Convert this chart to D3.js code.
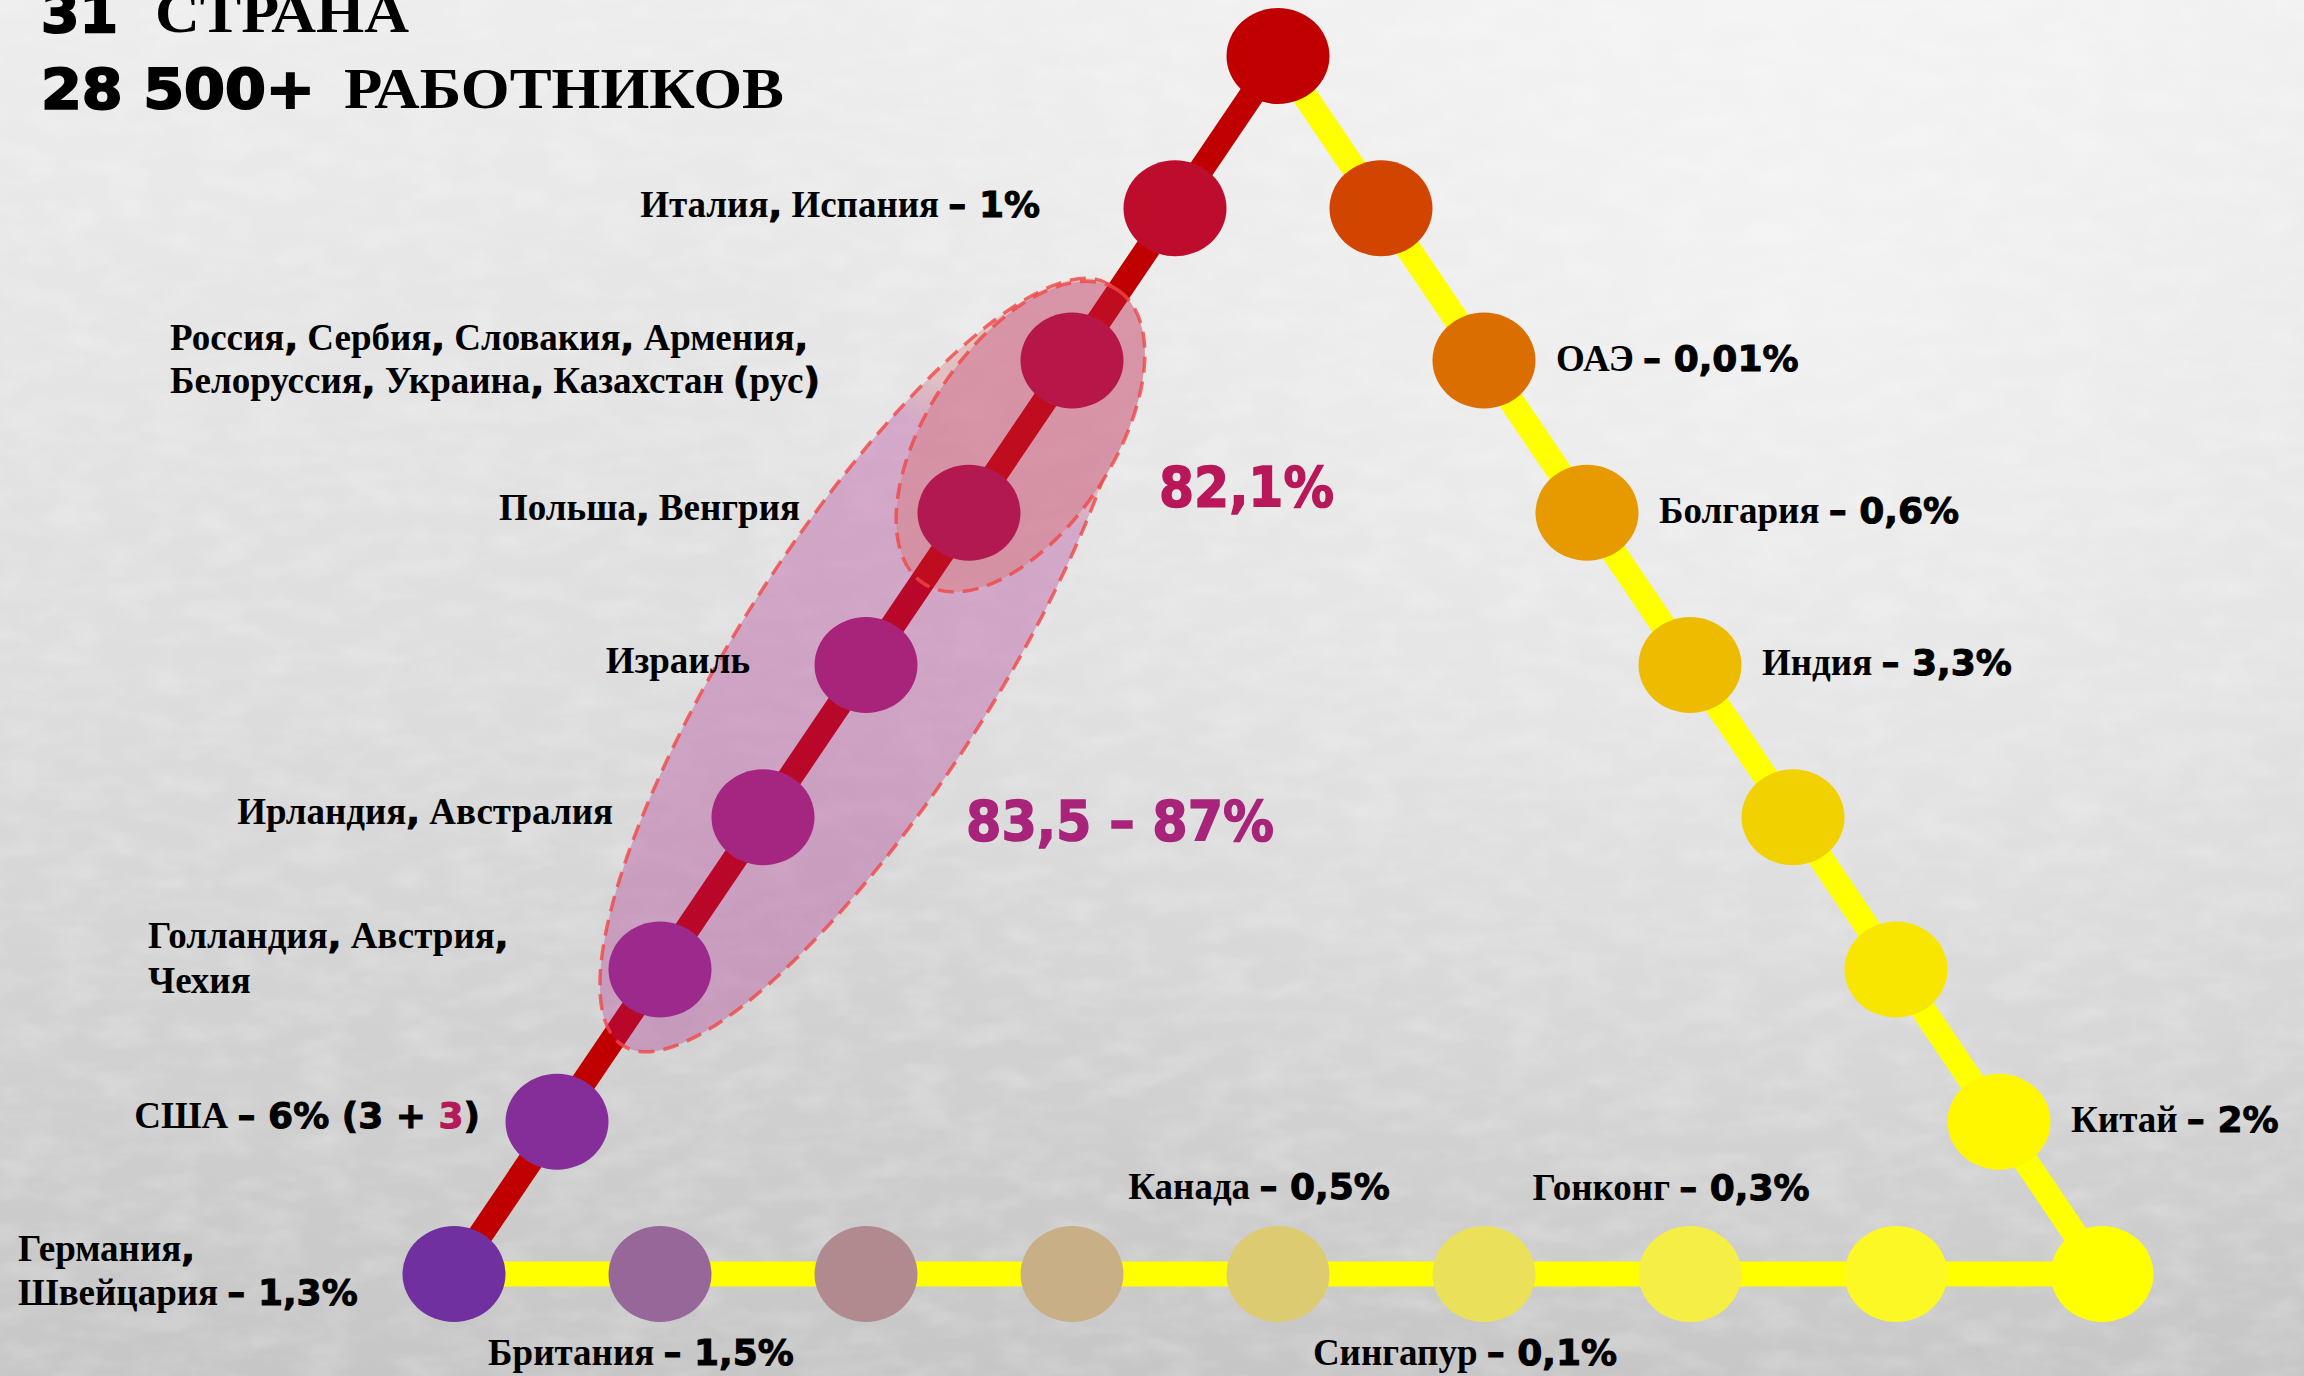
<!DOCTYPE html>
<html>
<head>
<meta charset="utf-8">
<script src="https://cdn.jsdelivr.net/npm/d3@7"></script>
<style>
body { margin: 0; background: #dcdcdc; }
svg { display: block; }
.serif { font-family: "Liberation Serif", "Times New Roman", serif; font-weight: bold; font-size: 37px; fill: #000; }
.heavy { font-family: "DejaVu Sans", Verdana, sans-serif; font-weight: bold; font-size: 36px; fill: #000; stroke: #000; stroke-width: 1px; }
</style>
</head>
<body>
<div id="chart"></div>
<script>
var width = 2304,
    height = 1376;

// title
var titleNumbers = ['31', '28 500+'];
var titleWords = ['СТРАНА', 'РАБОТНИКОВ'];

// left side of the triangle, apex first (red line)
var leftCountries = ['', 'Италия, Испания',
    'Россия, Сербия, Словакия, Армения,\nБелоруссия, Украина, Казахстан (рус)',
    'Польша, Венгрия', 'Израиль', 'Ирландия, Австралия',
    'Голландия, Австрия,\nЧехия', 'США', 'Германия,\nШвейцария'];
var leftShares = ['', '1%', '', '', '', '', '', '6% (3 + {3})', '1,3%'];
var leftColors = ['#c00000', '#be0c2d', '#b71648', '#b21950', '#a8237a',
    '#a42680', '#9c2a8c', '#852d99', '#7030a0'];

// right side, apex first (yellow line)
var rightCountries = ['', '', 'ОАЭ', 'Болгария', 'Индия', '', '', 'Китай', ''];
var rightShares = ['', '', '0,01%', '0,6%', '3,3%', '', '', '2%', ''];
var rightColors = ['#c00000', '#d24500', '#db6e00', '#e69a00', '#edbb00',
    '#f2d100', '#f8e600', '#fff700', '#ffff00'];

// bottom side, left corner first
var bottomCountries = ['', 'Британия', '', '', 'Канада', 'Сингапур', 'Гонконг', '', ''];
var bottomShares = ['', '1,5%', '', '', '0,5%', '0,1%', '0,3%', '', ''];
var bottomColors = ['#7030a0', '#98679a', '#b08a8e', '#c8af85', '#dccb70',
    '#ebe05a', '#f5ef45', '#fcf825', '#ffff00'];

// groups of stops on the left side
var groupLabels = ['83,5 – 87%', '82,1%'];
var groupFrom = [2, 2];
var groupTo = [6, 3];

// ---- layout ----
var steps = d3.range(9);
var leftX = d3.scaleLinear().domain([0, 8]).range([1278, 454]);
var rightX = d3.scaleLinear().domain([0, 8]).range([1278, 2102]);
var bottomX = d3.scaleLinear().domain([0, 8]).range([454, 2102]);
var sideY = d3.scaleLinear().domain([0, 8]).range([56, 1274]);

var leftLabelPos = {
    1: {dx: -135, dy: 9, anchor: 'end'},
    2: {dx: -902, dy: -11, anchor: 'start', lh: 43},
    3: {dx: -169, dy: 7, anchor: 'end'},
    4: {dx: -116, dy: 8, anchor: 'end'},
    5: {dx: -150, dy: 7, anchor: 'end'},
    6: {dx: -512, dy: -22, anchor: 'start', lh: 45},
    7: {dx: -77, dy: 6, anchor: 'end'},
    8: {dx: -436, dy: -13, anchor: 'start', lh: 44}
};
var bottomLabelDy = {1: 91, 4: -75, 5: 91, 6: -74};
var groupShape = [
    {b: 128, tilt: -1.5, tx: 966, ty: 840, len: 308, color: '#a8237a', grad: 'url(#bigFill)'},
    {b: 93, tilt: -0.5, tx: 1159, ty: 506, len: 175, color: '#b8175a', grad: 'rgba(190,30,74,0.42)'}
];
var titleLayout = [
    {y: 32, numLen: 77, wordX: 155, wordLen: 254},
    {y: 108, numLen: 274, wordX: 344, wordLen: 440}
];

var svg = d3.select('#chart').append('svg')
    .attr('width', width)
    .attr('height', height);

var defs = svg.append('defs');

var bg = defs.append('linearGradient').attr('id', 'bg')
    .attr('x1', 0).attr('y1', 0).attr('x2', 0).attr('y2', 1);
bg.append('stop').attr('offset', 0).attr('stop-color', '#ededed');
bg.append('stop').attr('offset', 0.5).attr('stop-color', '#dddddd');
bg.append('stop').attr('offset', 1).attr('stop-color', '#c6c6c6');

var glow = defs.append('radialGradient').attr('id', 'glow')
    .attr('gradientUnits', 'userSpaceOnUse')
    .attr('cx', 1800).attr('cy', 300).attr('r', 1100);
glow.append('stop').attr('offset', 0).attr('stop-color', '#fff').attr('stop-opacity', 0.45);
glow.append('stop').attr('offset', 1).attr('stop-color', '#fff').attr('stop-opacity', 0);

var bigFill = defs.append('linearGradient').attr('id', 'bigFill')
    .attr('x1', 0).attr('y1', 0).attr('x2', 1).attr('y2', 0);
bigFill.append('stop').attr('offset', 0).attr('stop-color', 'rgba(168,25,135,0.3)');
bigFill.append('stop').attr('offset', 0.75).attr('stop-color', 'rgba(168,25,135,0.3)');
bigFill.append('stop').attr('offset', 0.81).attr('stop-color', 'rgba(212,102,102,0.3)');
bigFill.append('stop').attr('offset', 1).attr('stop-color', 'rgba(212,102,102,0.3)');

var noise = defs.append('filter').attr('id', 'paper')
    .attr('x', 0).attr('y', 0).attr('width', 1).attr('height', 1);
noise.append('feTurbulence')
    .attr('type', 'fractalNoise')
    .attr('baseFrequency', '0.02 0.045')
    .attr('numOctaves', 3)
    .attr('seed', 4);
noise.append('feColorMatrix')
    .attr('type', 'matrix')
    .attr('values', '0 0 0 0 1  0 0 0 0 1  0 0 0 0 1  0.9 0 0 0 -0.35');

svg.append('rect').attr('width', width).attr('height', height).attr('fill', 'url(#bg)');
svg.append('rect').attr('width', width).attr('height', height).attr('fill', 'url(#glow)');
svg.append('rect').attr('width', width).attr('height', height)
    .attr('filter', 'url(#paper)').attr('opacity', 0.45);

// ---- nodes ----
var leftNodes = steps.map(function(i) {
    return {i: i, name: leftCountries[i], share: leftShares[i], color: leftColors[i], x: leftX(i), y: sideY(i)};
});
var rightNodes = steps.map(function(i) {
    return {i: i, name: rightCountries[i], share: rightShares[i], color: rightColors[i], x: rightX(i), y: sideY(i)};
});
var bottomNodes = steps.map(function(i) {
    return {i: i, name: bottomCountries[i], share: bottomShares[i], color: bottomColors[i], x: bottomX(i), y: sideY(8)};
});

var line = d3.line().x(function(d) { return d.x; }).y(function(d) { return d.y; });

svg.append('path')
    .attr('d', line(rightNodes))
    .attr('fill', 'none').attr('stroke', '#ffff00').attr('stroke-width', 25);
svg.append('path')
    .attr('d', line(bottomNodes))
    .attr('fill', 'none').attr('stroke', '#ffff00').attr('stroke-width', 25);
svg.append('path')
    .attr('d', line(leftNodes))
    .attr('fill', 'none').attr('stroke', '#c00000').attr('stroke-width', 25);

// group overlays
var lineAngle = Math.atan2(sideY(0) - sideY(8), leftX(0) - leftX(8)) * 180 / Math.PI;

var shapes = groupLabels.map(function(label, k) {
    var a = leftNodes[groupTo[k]], b = leftNodes[groupFrom[k]];
    var half = Math.sqrt((a.x - b.x) * (a.x - b.x) + (a.y - b.y) * (a.y - b.y)) / 2;
    return {
        transform: 'translate(' + (a.x + b.x) / 2 + ',' + (a.y + b.y) / 2 + ') rotate(' + (lineAngle + groupShape[k].tilt) + ')',
        rx: half + 84,
        ry: groupShape[k].b
    };
});

// the wide group is hidden where the narrow one sits on it
var mask = defs.append('mask').attr('id', 'cutSmall')
    .attr('maskUnits', 'userSpaceOnUse')
    .attr('x', 0).attr('y', 0).attr('width', width).attr('height', height);
mask.append('rect').attr('width', width).attr('height', height).attr('fill', '#fff');
mask.append('ellipse')
    .attr('transform', shapes[1].transform)
    .attr('rx', shapes[1].rx).attr('ry', shapes[1].ry)
    .attr('fill', '#000');

shapes.forEach(function(s, k) {
    svg.append('g')
        .attr('mask', k === 0 ? 'url(#cutSmall)' : null)
        .append('ellipse')
        .attr('transform', s.transform)
        .attr('rx', s.rx)
        .attr('ry', s.ry)
        .attr('fill', groupShape[k].grad)
        .attr('stroke', 'rgba(240,70,70,0.8)')
        .attr('stroke-width', 3.5)
        .attr('stroke-dasharray', '16 9');
});

var dots = bottomNodes.slice(1, 8).concat(rightNodes.slice(1), leftNodes);
svg.selectAll('.stop')
    .data(dots)
    .enter().append('ellipse')
    .attr('class', 'stop')
    .attr('cx', function(d) { return d.x; })
    .attr('cy', function(d) { return d.y; })
    .attr('rx', 51.5)
    .attr('ry', 48)
    .attr('fill', function(d) { return d.color; });

// ---- labels ----
var labels = svg.append('g');

function writeLabel(x, y, anchor, name, share, lh) {
    var lines = name.split('\n');
    lines.forEach(function(txt, k) {
        var t = labels.append('text')
            .attr('x', x)
            .attr('y', y + k * (lh || 0))
            .attr('text-anchor', anchor);
        txt.split(/([,()])/).forEach(function(p) {
            if (!p) return;
            t.append('tspan').attr('class', /^[,()]$/.test(p) ? 'heavy' : 'serif').text(p);
        });
        if (k === lines.length - 1 && share) {
            t.append('tspan').attr('class', 'serif').text(' ');
            t.append('tspan').attr('class', 'heavy').text('– ');
            share.split(/(\{\d+\})/).forEach(function(p) {
                if (!p) return;
                var hi = /^\{.*\}$/.test(p);
                t.append('tspan').attr('class', 'heavy')
                    .style('fill', hi ? '#b5195a' : null)
                    .style('stroke', hi ? '#b5195a' : null)
                    .text(hi ? p.slice(1, -1) : p);
            });
        }
    });
}

leftNodes.forEach(function(d) {
    if (!d.name) return;
    var p = leftLabelPos[d.i];
    writeLabel(d.x + p.dx, d.y + p.dy, p.anchor, d.name, d.share, p.lh);
});
rightNodes.forEach(function(d) {
    if (!d.name) return;
    writeLabel(d.x + 72, d.y + 10, 'start', d.name, d.share);
});
bottomNodes.forEach(function(d) {
    if (!d.name || d.i === 0) return;
    writeLabel(d.x - 19, d.y + bottomLabelDy[d.i], 'middle', d.name, d.share);
});

groupLabels.forEach(function(label, k) {
    labels.append('text')
        .attr('class', 'heavy')
        .attr('x', groupShape[k].tx)
        .attr('y', groupShape[k].ty)
        .attr('textLength', groupShape[k].len)
        .attr('lengthAdjust', 'spacingAndGlyphs')
        .style('font-size', '56px')
        .style('fill', groupShape[k].color)
        .style('stroke', groupShape[k].color)
        .style('stroke-width', '1.5px')
        .text(label);
});

// title
titleNumbers.forEach(function(n, k) {
    var L = titleLayout[k];
    labels.append('text').attr('class', 'heavy')
        .attr('x', 41).attr('y', L.y)
        .attr('textLength', L.numLen)
        .attr('lengthAdjust', 'spacingAndGlyphs')
        .style('font-size', '55px')
        .style('stroke-width', '2px')
        .text(n);
    labels.append('text').attr('class', 'serif')
        .attr('x', L.wordX).attr('y', L.y)
        .attr('textLength', L.wordLen)
        .attr('lengthAdjust', 'spacingAndGlyphs')
        .style('font-size', '58px')
        .text(titleWords[k]);
});
</script>
</body>
</html>
